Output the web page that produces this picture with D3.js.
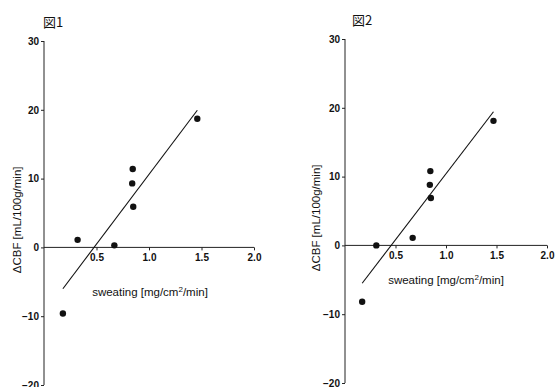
<!DOCTYPE html>
<html>
<head>
<meta charset="utf-8">
<script src="https://cdn.jsdelivr.net/npm/d3@7"></script>
<style>
  body { margin: 0; background: #fff; }
  svg { display: block; }
  .tick text { font-family: "Liberation Sans", Arial, sans-serif; font-size: 10px; font-weight: bold; fill: #111; }
  .axis-title { font-family: "Liberation Sans", Arial, sans-serif; font-size: 11.5px; fill: #111; }
  .fig-title { font-family: "Noto Sans CJK JP", sans-serif; font-size: 13px; fill: #111; }
</style>
</head>
<body>
<div id="chart"></div>
<script>
// sweating [mg/cm2/min] vs ΔCBF [mL/100g/min]
const sweat1 = [0.18, 0.32, 0.67, 0.845, 0.84, 0.85, 1.46];
const cbf1 = [-9.6, 1.1, 0.3, 11.4, 9.3, 5.9, 18.7];
const sweat2 = [0.17, 0.31, 0.67, 0.845, 0.84, 0.85, 1.47];
const cbf2 = [-8.2, 0.0, 1.1, 10.8, 8.8, 6.9, 18.1];

const xTicks = [0.5, 1.0, 1.5, 2.0];
const yTicks = [-20, -10, 0, 10, 20, 30];
const titles = ['図1', '図2'];

const W = 555, H = 387;
const svg = d3.select('#chart').append('svg').attr('width', W).attr('height', H);

// panel boxes in page pixels
const panels = [
  { sx: sweat1, sy: cbf1, title: titles[0], x0: 44, x1: 254, yTop: 41, yBot: 385, titleX: 43, titleY: 27, labX: 150, labY: 296, ylabX: 21 },
  { sx: sweat2, sy: cbf2, title: titles[1], x0: 345, x1: 547, yTop: 39, yBot: 383, titleX: 352, titleY: 25, labX: 446, labY: 284, ylabX: 320 }
];

function linreg(xs, ys) {
  const mx = d3.mean(xs), my = d3.mean(ys);
  let sxy = 0, sxx = 0;
  xs.forEach((x, i) => { sxy += (x - mx) * (ys[i] - my); sxx += (x - mx) ** 2; });
  const slope = sxy / sxx;
  return { slope, intercept: my - slope * mx };
}

panels.forEach(p => {
  const x = d3.scaleLinear().domain([0, 2]).range([p.x0, p.x1]);
  const y = d3.scaleLinear().domain([-20, 30]).range([p.yBot, p.yTop]);
  const g = svg.append('g');

  // y axis
  const ya = g.append('g')
    .attr('transform', `translate(${p.x0},0)`)
    .call(d3.axisLeft(y).tickValues(yTicks).tickSize(3).tickPadding(2).tickFormat(d3.format('d')));
  ya.select('.domain').attr('stroke', '#222').attr('d', `M0,${p.yTop}V${p.yBot}`);
  ya.selectAll('.tick line').attr('stroke', '#222');

  // x axis through y = 0
  const xa = g.append('g')
    .attr('transform', `translate(0,${y(0)})`)
    .call(d3.axisBottom(x).tickValues(xTicks).tickSize(3).tickPadding(4).tickFormat(d3.format('.1f')));
  xa.select('.domain').attr('stroke', '#222').attr('d', `M${p.x0},0H${p.x1}`);
  xa.selectAll('.tick line').attr('stroke', '#222');

  // regression line over the data range
  const r = linreg(p.sx, p.sy);
  const xr = d3.extent(p.sx);
  g.append('line')
    .attr('x1', x(xr[0])).attr('y1', y(r.intercept + r.slope * xr[0]))
    .attr('x2', x(xr[1])).attr('y2', y(r.intercept + r.slope * xr[1]))
    .attr('stroke', '#111').attr('stroke-width', 1.1);

  // points
  g.selectAll('circle').data(p.sx).enter().append('circle')
    .attr('cx', d => x(d))
    .attr('cy', (d, i) => y(p.sy[i]))
    .attr('r', 3.2)
    .attr('fill', '#111');

  // titles
  g.append('text').attr('class', 'fig-title').attr('x', p.titleX).attr('y', p.titleY).text(p.title);

  const xt = g.append('text').attr('class', 'axis-title')
    .attr('x', p.labX).attr('y', p.labY).attr('text-anchor', 'middle');
  xt.append('tspan').text('sweating [mg/cm');
  xt.append('tspan').attr('dy', -4).attr('font-size', '8px').text('2');
  xt.append('tspan').attr('dy', 4).text('/min]');

  g.append('text').attr('class', 'axis-title')
    .attr('transform', `translate(${p.ylabX},${y(4)}) rotate(-90)`)
    .attr('text-anchor', 'middle')
    .text('ΔCBF [mL/100g/min]');
});
</script>
</body>
</html>
